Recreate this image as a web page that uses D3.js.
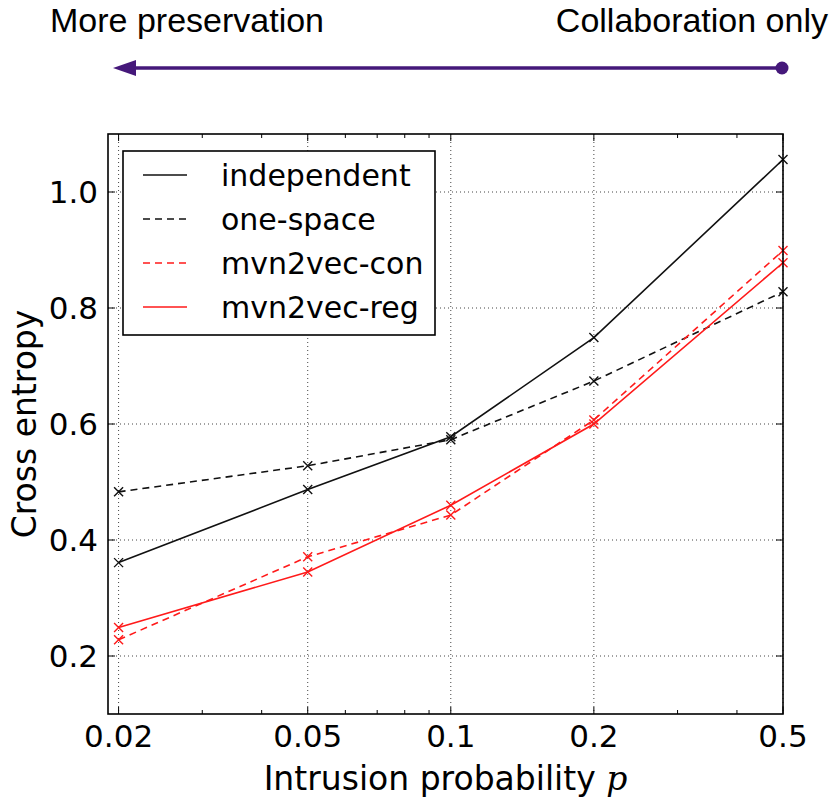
<!DOCTYPE html>
<html>
<head>
<meta charset="utf-8">
<script src="https://cdn.jsdelivr.net/npm/d3@7"></script>
<style>
  body { margin: 0; background: #fff; }
  svg { display: block; }
</style>
</head>
<body>
<svg id="chart" width="831" height="802"></svg>
<script>
// data
const probs = [0.02, 0.05, 0.1, 0.2, 0.5];
const xTickLabels = ["0.02", "0.05", "0.1", "0.2", "0.5"];
const xMinorTicks = [0.03, 0.04, 0.06, 0.07, 0.08, 0.09, 0.3, 0.4];
const yTicks = [0.2, 0.4, 0.6, 0.8, 1.0];

const independent = [0.361, 0.487, 0.578, 0.749, 1.056];
const oneSpace = [0.483, 0.528, 0.573, 0.674, 0.828];
const mvn2vecCon = [0.228, 0.371, 0.443, 0.607, 0.899];
const mvn2vecReg = [0.249, 0.345, 0.460, 0.600, 0.878];

const seriesNames = ["independent", "one-space", "mvn2vec-con", "mvn2vec-reg"];
const seriesValues = [independent, oneSpace, mvn2vecCon, mvn2vecReg];
const seriesColors = ["#111", "#111", "#ff1a1a", "#ff1a1a"];
const seriesDashed = [false, true, true, false];

const width = 831;
const height = 802;
const margin = { top: 134, right: 48, bottom: 88, left: 108 };
const chartWidth = width - margin.left - margin.right;
const chartHeight = height - margin.top - margin.bottom;

const svg = d3.select('#chart');

// arrow annotation on top
const arrowColor = '#45187a';
svg.append('text')
    .attr('x', 50)
    .attr('y', 32)
    .style('font-family', 'Liberation Sans, Arial, sans-serif')
    .style('font-size', '34px')
    .style('fill', '#000')
    .text('More preservation');

svg.append('text')
    .attr('x', 828)
    .attr('y', 32)
    .attr('text-anchor', 'end')
    .style('font-family', 'Liberation Sans, Arial, sans-serif')
    .style('font-size', '34px')
    .style('fill', '#000')
    .text('Collaboration only');

svg.append('line')
    .attr('x1', 130).attr('x2', 782)
    .attr('y1', 68).attr('y2', 68)
    .attr('stroke', arrowColor)
    .attr('stroke-width', 3.5);

svg.append('path')
    .attr('d', 'M113,68 L136,60 L136,76 Z')
    .attr('fill', arrowColor);

svg.append('circle')
    .attr('cx', 782).attr('cy', 68).attr('r', 6.5)
    .attr('fill', arrowColor);

// plot group
const g = svg.append('g')
    .attr('transform', `translate(${margin.left}, ${margin.top})`);

const x = d3.scaleLog()
    .domain([0.019, 0.5])
    .range([0, chartWidth]);

const y = d3.scaleLinear()
    .domain([0.1, 1.1])
    .range([chartHeight, 0]);

// dotted grid
g.selectAll('.xgrid')
    .data(probs)
    .enter()
    .append('line')
    .attr('x1', d => x(d)).attr('x2', d => x(d))
    .attr('y1', 0).attr('y2', chartHeight)
    .attr('stroke', '#444')
    .attr('stroke-width', 1)
    .attr('stroke-dasharray', '1,3');

g.selectAll('.ygrid')
    .data(yTicks)
    .enter()
    .append('line')
    .attr('x1', 0).attr('x2', chartWidth)
    .attr('y1', d => y(d)).attr('y2', d => y(d))
    .attr('stroke', '#444')
    .attr('stroke-width', 1)
    .attr('stroke-dasharray', '1,3');

// inward ticks on all four sides
const tickColor = '#000';
const drawXTicks = (vals, len) => {
    g.selectAll(null).data(vals).enter().append('line')
        .attr('x1', d => x(d)).attr('x2', d => x(d))
        .attr('y1', chartHeight).attr('y2', chartHeight - len)
        .attr('stroke', tickColor).attr('stroke-width', 1);
    g.selectAll(null).data(vals).enter().append('line')
        .attr('x1', d => x(d)).attr('x2', d => x(d))
        .attr('y1', 0).attr('y2', len)
        .attr('stroke', tickColor).attr('stroke-width', 1);
};
drawXTicks(probs, 7);
drawXTicks(xMinorTicks, 4);

g.selectAll(null).data(yTicks).enter().append('line')
    .attr('x1', 0).attr('x2', 7)
    .attr('y1', d => y(d)).attr('y2', d => y(d))
    .attr('stroke', tickColor).attr('stroke-width', 1);
g.selectAll(null).data(yTicks).enter().append('line')
    .attr('x1', chartWidth).attr('x2', chartWidth - 7)
    .attr('y1', d => y(d)).attr('y2', d => y(d))
    .attr('stroke', tickColor).attr('stroke-width', 1);

// tick labels
const tickFont = 'DejaVu Sans, sans-serif';
g.selectAll('.xlabel')
    .data(probs)
    .enter()
    .append('text')
    .attr('x', d => x(d))
    .attr('y', chartHeight + 33)
    .attr('text-anchor', 'middle')
    .style('font-family', tickFont)
    .style('font-size', '31px')
    .text((d, i) => xTickLabels[i]);

g.selectAll('.ylabel')
    .data(yTicks)
    .enter()
    .append('text')
    .attr('x', -10)
    .attr('y', d => y(d))
    .attr('dy', '0.36em')
    .attr('text-anchor', 'end')
    .style('font-family', tickFont)
    .style('font-size', '31px')
    .text(d => d.toFixed(1));

// series lines and x markers
const line = d3.line()
    .x((d, i) => x(probs[i]))
    .y(d => y(d));

seriesValues.forEach((vals, s) => {
    g.append('path')
        .datum(vals)
        .attr('d', line)
        .attr('fill', 'none')
        .attr('stroke', seriesColors[s])
        .attr('stroke-width', 1.6)
        .attr('stroke-dasharray', seriesDashed[s] ? '7,5' : null);

    g.selectAll(null)
        .data(vals)
        .enter()
        .append('path')
        .attr('transform', (d, i) => `translate(${x(probs[i])}, ${y(d)})`)
        .attr('d', 'M-4.5,-4.5L4.5,4.5M-4.5,4.5L4.5,-4.5')
        .attr('stroke', seriesColors[s])
        .attr('stroke-width', 1.4);
});

// frame
g.append('rect')
    .attr('x', 0).attr('y', 0)
    .attr('width', chartWidth).attr('height', chartHeight)
    .attr('fill', 'none')
    .attr('stroke', '#000')
    .attr('stroke-width', 1.6);

// legend
const legend = g.append('g')
    .attr('transform', 'translate(15, 17)');

legend.append('rect')
    .attr('x', 0).attr('y', 0)
    .attr('width', 312).attr('height', 184)
    .attr('fill', '#fff')
    .attr('stroke', '#000')
    .attr('stroke-width', 1.6);

const legendRows = legend.selectAll('.row')
    .data(seriesNames)
    .enter()
    .append('g')
    .attr('transform', (d, i) => `translate(0, ${24 + i * 44})`);

legendRows.append('line')
    .attr('x1', 20).attr('x2', 64)
    .attr('y1', 0).attr('y2', 0)
    .attr('stroke', (d, i) => seriesColors[i])
    .attr('stroke-width', 1.6)
    .attr('stroke-dasharray', (d, i) => seriesDashed[i] ? '7,5' : null);

legendRows.append('text')
    .attr('x', 98)
    .attr('y', 0)
    .attr('dy', '0.36em')
    .style('font-family', tickFont)
    .style('font-size', '30px')
    .text(d => d);

// axis titles
const xTitle = svg.append('text')
    .attr('x', margin.left + chartWidth / 2)
    .attr('y', 790)
    .attr('text-anchor', 'middle')
    .style('font-family', tickFont)
    .style('font-size', '33px');
xTitle.append('tspan').text('Intrusion probability ');
xTitle.append('tspan')
    .style('font-family', 'DejaVu Serif, serif')
    .style('font-style', 'italic')
    .text('p');

svg.append('text')
    .attr('transform', 'translate(36, 424) rotate(-90)')
    .attr('text-anchor', 'middle')
    .style('font-family', tickFont)
    .style('font-size', '33px')
    .text('Cross entropy');
</script>
</body>
</html>
